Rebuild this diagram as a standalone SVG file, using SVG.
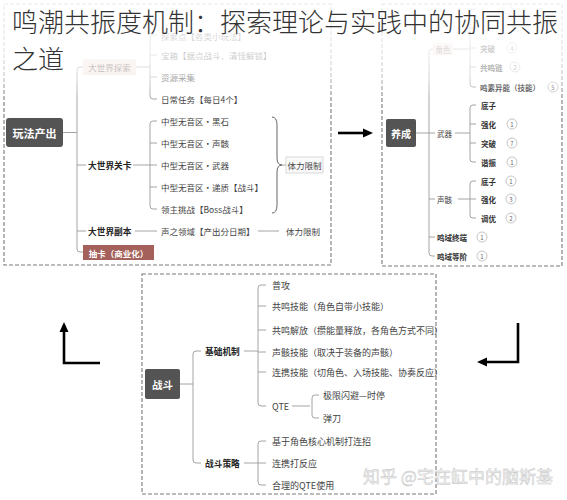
<svg xmlns="http://www.w3.org/2000/svg" width="567" height="500" viewBox="0 0 567 500">
<style>
text{font-family:"Noto Sans CJK SC","Noto Sans",sans-serif;dominant-baseline:central}
.t{font-size:8.5px;fill:#444}
.tb{font-size:8.7px;fill:#222;font-weight:bold}
.r{font-size:7.5px;fill:#333;font-weight:bold}
.rp{font-size:7.5px;fill:#444}
.bt{font-size:9px;fill:#444}
.w{fill:#fff;font-weight:bold;text-anchor:middle}
.dk{fill:#545454}
.pk{fill:#f1e3dd}
.ln{fill:none;stroke:#9a9a9a;stroke-width:0.9}
.dash{fill:none;stroke:#7a7a7a;stroke-width:1.1;stroke-dasharray:4 2}
.arr{fill:none;stroke:#000;stroke-width:2.6}
.c{fill:#fff;stroke:#b5b5b5;stroke-width:0.8}
.cn{font-size:6px;fill:#666;text-anchor:middle}
</style>
<defs>
<marker id="ah" markerUnits="userSpaceOnUse" markerWidth="10" markerHeight="10" refX="0" refY="5" orient="auto">
<path d="M0,0.5 L10,5 L0,9.5 z" fill="#000"/>
</marker>
<linearGradient id="fade" x1="0" y1="0" x2="0" y2="1">
<stop offset="0" stop-color="#fff" stop-opacity="0.85"/>
<stop offset="0.55" stop-color="#fff" stop-opacity="0.75"/>
<stop offset="0.77" stop-color="#fff" stop-opacity="0.55"/>
<stop offset="0.87" stop-color="#fff" stop-opacity="0.3"/>
<stop offset="1" stop-color="#fff" stop-opacity="0"/>
</linearGradient>
</defs>
<rect width="567" height="500" fill="#fff"/>

<g id="panels">
<rect class="dash" x="4" y="4" width="327" height="261"/>
<rect class="dash" x="382" y="4" width="180" height="262"/>
<rect class="dash" x="142" y="274" width="294" height="220"/>
</g>

<g id="connectors">
<path class="ln" d="M63,132.5 H77"/>
<path class="ln" d="M83,67 H80 Q77,67 77,70 V249 Q77,252 80,252 H83"/>
<path class="ln" d="M77,165 H86 M77,231 H86"/>
<path class="ln" d="M136,67 H150"/>
<path class="ln" d="M157,35 H153 Q150,35 150,38 V96 Q150,99 153,99 H157 M150,55 H157 M150,77 H157"/>
<path class="ln" d="M133,165 H150"/>
<path class="ln" d="M157,121 H153 Q150,121 150,124 V206 Q150,209 153,209 H157 M150,143 H157 M150,165 H157 M150,187 H157"/>
<path class="ln" d="M135,231 H157 M258,231 H279"/>
<path d="M272,117 Q277,117 277,125 L277,158 Q277,165 282,165 Q277,165 277,172 L277,205 Q277,213 272,213" fill="none" stroke="#555" stroke-width="0.9"/>
<path class="ln" d="M282,165 H286"/>
<path class="ln" d="M416,133 H429"/>
<path class="ln" d="M433,49 H432 Q429,49 429,52 V253 Q429,256 432,256 H435 M429,133 H435 M429,199 H435 M429,237 H435"/>
<path class="ln" d="M453,49 H470"/>
<path class="ln" d="M476,9 H473 Q470,9 470,12 V84 Q470,87 473,87 H476 M470,28 H476 M470,48 H476 M470,67 H476"/>
<path class="ln" d="M455,133 H470"/>
<path class="ln" d="M476,105 H473 Q470,105 470,108 V159 Q470,162 473,162 H476 M470,124 H476 M470,143 H476"/>
<path class="ln" d="M458,199 H470"/>
<path class="ln" d="M476,181 H473 Q470,181 470,184 V215 Q470,218 473,218 H476 M470,199 H476"/>
<path class="ln" d="M180,384 H193"/>
<path class="ln" d="M201,351 H196 Q193,351 193,354 V460 Q193,463 196,463 H201"/>
<path class="ln" d="M244,351 H258"/>
<path class="ln" d="M266,285 H261 Q258,285 258,288 V403 Q258,406 261,406 H266 M258,306 H266 M258,330 H266 M258,352 H266 M258,372 H266"/>
<path class="ln" d="M292,406 H310"/>
<path class="ln" d="M319,395 H315 Q312,395 312,398 V415 Q312,418 315,418 H319"/>
<path class="ln" d="M244,463 H258"/>
<path class="ln" d="M266,441 H261 Q258,441 258,444 V482 Q258,485 261,485 H266 M258,463 H266"/>
<path class="arr" d="M338,133 H363" marker-end="url(#ah)"/>
<path class="arr" d="M518,323 V362 H487" marker-end="url(#ah)"/>
<path class="arr" d="M100,363 H64 V332" marker-end="url(#ah)"/>
</g>

<g id="n-play"><rect class="dk" x="6" y="118" width="57" height="29" rx="3"/><text class="w" x="34.5" y="132.5" font-size="11">玩法产出</text></g>
<g id="n-explore"><rect class="pk" x="83" y="59" width="53" height="16" rx="1"/><text x="109.5" y="67" font-size="8.5" fill="#6a5a55" text-anchor="middle">大世界探索</text></g>
<g id="n-explore-items">
<text class="t" x="161" y="36" font-size="8">探索点【各类小玩法】</text>
<text class="t" x="161" y="55">宝箱【据点战斗、清怪解锁】</text>
<text class="t" x="161" y="77">资源采集</text>
<text class="t" x="161" y="99">日常任务【每日4个】</text>
</g>
<g id="n-level"><text class="tb" x="88" y="165">大世界关卡</text></g>
<g id="n-level-items">
<text class="t" x="161" y="121">中型无音区·黑石</text>
<text class="t" x="161" y="143">中型无音区·声骸</text>
<text class="t" x="161" y="165">中型无音区·武器</text>
<text class="t" x="161" y="187">中型无音区·递质【战斗】</text>
<text class="t" x="161" y="209">领主挑战【Boss战斗】</text>
</g>
<g id="n-stamina1"><rect x="286" y="157" width="37" height="16" fill="#fafafa" stroke="#d0d0d0" stroke-width="0.8"/><text class="t" x="304.5" y="165" text-anchor="middle">体力限制</text></g>
<g id="n-dungeon"><text class="tb" x="88" y="231">大世界副本</text><text class="t" x="161" y="231">声之领域【产出分日期】</text><text class="t" x="286" y="231">体力限制</text></g>
<g id="n-gacha"><rect x="83" y="245" width="71" height="15" fill="#a4605a"/><text class="w" x="118.5" y="252.5" font-size="8.5">抽卡（商业化）</text></g>

<g id="n-train"><rect class="dk" x="386" y="119" width="30" height="28" rx="2"/><text class="w" x="401" y="133" font-size="10">养成</text></g>
<g id="n-role"><rect class="pk" x="433" y="43" width="20" height="12"/><text x="443" y="49" font-size="7.5" fill="#6a5a55" text-anchor="middle">角色</text></g>
<g id="n-role-items">
<circle class="c" cx="507" cy="9" r="5"/>
<text class="r" x="480" y="48">突破</text><circle class="c" cx="512" cy="48" r="5"/><text class="cn" x="512" y="48">4</text>
<text class="r" x="480" y="67">共鸣链</text><circle class="c" cx="515" cy="67" r="5"/><text class="cn" x="515" y="67">2</text>
<text class="r" x="480" y="87">鸣素异能（技能）</text><circle class="c" cx="553" cy="87" r="5"/><text class="cn" x="553" y="87">5</text>
</g>
<g id="n-weapon"><text class="rp" x="437" y="133">武器</text></g>
<g id="n-weapon-items">
<text class="r" x="481" y="105">底子</text>
<text class="r" x="481" y="124">强化</text><circle class="c" cx="512" cy="124" r="5"/><text class="cn" x="512" y="124">1</text>
<text class="r" x="481" y="143">突破</text><circle class="c" cx="512" cy="143" r="5"/><text class="cn" x="512" y="143">7</text>
<text class="r" x="481" y="162">谐振</text><circle class="c" cx="512" cy="162" r="5"/><text class="cn" x="512" y="162">1</text>
</g>
<g id="n-echo"><text class="rp" x="437" y="199">声骸</text></g>
<g id="n-echo-items">
<text class="r" x="481" y="181">底子</text><circle class="c" cx="511" cy="181" r="5"/><text class="cn" x="511" y="181">1</text>
<text class="r" x="481" y="199">强化</text><circle class="c" cx="511" cy="199" r="5"/><text class="cn" x="511" y="199">3</text>
<text class="r" x="481" y="218">调优</text><circle class="c" cx="511" cy="218" r="5"/><text class="cn" x="511" y="218">2</text>
</g>
<g id="n-terminal"><text class="r" x="437" y="237">鸣域终端</text><circle class="c" cx="482" cy="237" r="5"/><text class="cn" x="482" y="237">1</text></g>
<g id="n-rank"><text class="r" x="437" y="256">鸣域等阶</text><circle class="c" cx="482" cy="256" r="5"/><text class="cn" x="482" y="256">1</text></g>

<g id="n-battle"><rect class="dk" x="145" y="369" width="35" height="30" rx="2"/><text class="w" x="162.5" y="384" font-size="10.5">战斗</text></g>
<g id="n-basic"><text class="tb" x="205" y="351">基础机制</text></g>
<g id="n-basic-items">
<text class="bt" x="272" y="285">普攻</text>
<text class="bt" x="272" y="306">共鸣技能（角色自带小技能）</text>
<text class="bt" x="272" y="330">共鸣解放（攒能量释放，各角色方式不同）</text>
<text class="bt" x="272" y="352">声骸技能（取决于装备的声骸）</text>
<text class="bt" x="272" y="372">连携技能（切角色、入场技能、协奏反应）</text>
<text class="bt" x="272" y="406">QTE</text>
</g>
<g id="n-qte-items">
<text class="bt" x="323" y="395">极限闪避—时停</text>
<text class="bt" x="323" y="418">弹刀</text>
</g>
<g id="n-strategy"><text class="tb" x="205" y="463">战斗策略</text></g>
<g id="n-strategy-items">
<text class="bt" x="272" y="441">基于角色核心机制打连招</text>
<text class="bt" x="272" y="463">连携打反应</text>
<text class="bt" x="272" y="485">合理的QTE使用</text>
</g>

<rect x="0" y="0" width="567" height="100" fill="url(#fade)"/>
<g id="title" font-size="26" fill="#333" font-weight="300">
<text x="12" y="20">鸣潮共振度机制：探索理论与实践中的协同共振</text>
<text x="12" y="57">之道</text>
</g>
<text x="363" y="475" font-size="17" fill="#f0f0f0" stroke="#c2c2c2" stroke-width="0.4">知乎 @宅在缸中的脑斯基</text>
</svg>
